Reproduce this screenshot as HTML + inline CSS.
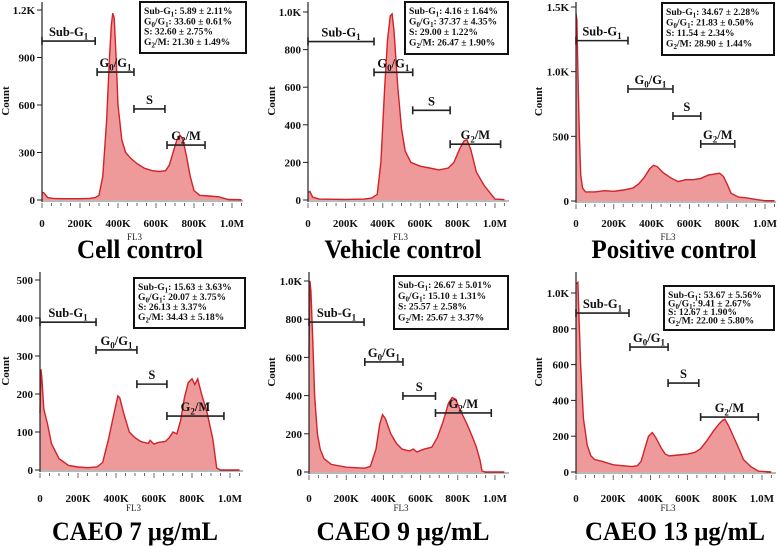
<!DOCTYPE html>
<html><head><meta charset="utf-8"><style>
html,body{margin:0;padding:0;background:#fff;}
svg{display:block;font-family:"Liberation Serif",serif;}
</style></head>
<body>
<svg id="fig" width="777" height="546" viewBox="0 0 777 546" xmlns="http://www.w3.org/2000/svg"></svg>
<script>
// ---- data (FL3 in K, counts) ----
const p1X=[0,10,30,60,100,200,250,280,300,320,340,355,365,372,380,390,400,420,440,470,500,540,580,620,650,670,690,710,725,740,760,780,800,830,880,930,960,980,1050];
const p1Y=[50,45,15,10,8,8,10,15,30,150,500,900,1100,1180,1150,900,600,380,300,260,230,200,185,180,185,220,300,380,410,390,280,150,60,30,25,20,10,3,2];
const p2X=[0,10,25,60,200,300,340,370,390,410,425,440,450,460,480,500,520,550,600,650,700,750,780,810,835,850,870,900,940,980,1000,1050];
const p2Y=[40,45,15,5,3,5,10,30,200,600,850,980,990,900,600,380,260,200,180,170,160,170,200,270,315,320,270,150,80,30,5,2];
const p3X=[0,5,10,18,25,35,50,100,150,200,250,300,330,360,390,410,430,460,500,540,580,620,660,700,740,760,780,800,820,860,900,960,1000,1050];
const p3Y=[1450,1400,1000,500,200,100,70,70,80,75,85,100,130,180,250,275,265,220,180,150,165,165,175,200,210,215,190,130,60,30,25,10,2,2];
const p4X=[0,5,10,20,40,60,100,150,200,250,300,330,360,390,410,420,440,470,500,530,570,580,600,620,660,680,700,720,740,760,780,800,815,830,850,880,910,930,950,1050];
const p4Y=[150,265,240,160,120,70,30,12,8,6,8,20,80,150,195,190,150,100,85,75,70,78,68,72,75,85,100,95,130,190,230,240,225,240,200,150,80,5,0,0];
const p5X=[0,5,10,20,30,45,60,80,120,200,300,330,360,380,395,410,440,470,500,540,560,580,620,660,690,720,750,770,790,810,850,880,900,920,930,950,1050];
const p5Y=[600,1000,950,700,400,200,120,70,40,25,20,30,120,250,300,280,200,150,120,110,120,105,120,130,180,260,360,390,380,330,250,180,130,60,5,0,0];
const p6X=[0,10,15,25,40,60,80,100,140,200,250,300,330,350,370,390,410,430,460,480,500,550,600,640,670,700,740,770,790,800,820,850,880,900,940,980,1050];
const p6Y=[1050,1060,900,600,300,150,90,70,60,40,35,30,35,60,130,200,220,190,130,100,90,95,100,110,130,170,230,270,290,295,260,190,120,70,30,5,0];
// gate brackets: [startK, endK, countLevel]
const p1Gates=[[0,280,1004],[290,484,808],[484,647,575],[658,858,347]];
const p2Gates=[[0,353,843],[353,560,679],[560,760,477],[760,1030,297]];
const p3Gates=[[0,275,1240],[275,513,866],[513,660,657],[660,840,441]];
const p4Gates=[[0,295,389],[295,510,316],[510,668,226],[668,968,142]];
const p5Gates=[[0,296,785],[300,505,576],[505,680,398],[680,980,309]];
const p6Gates=[[0,285,888],[290,495,698],[495,660,497],[670,980,307]];
const p1Stats=["Sub-G_1: 5.89 ± 2.11%","G_0/G_1: 33.60 ± 0.61%","S: 32.60 ± 2.75%","G_2/M: 21.30 ± 1.49%"];
const p2Stats=["Sub-G_1: 4.16 ± 1.64%","G_0/G_1: 37.37 ± 4.35%","S: 29.00 ± 1.22%","G_2/M: 26.47 ± 1.90%"];
const p3Stats=["Sub-G_1: 34.67 ± 2.28%","G_0/G_1: 21.83 ± 0.50%","S: 11.54 ± 2.34%","G_2/M: 28.90 ± 1.44%"];
const p4Stats=["Sub-G_1: 15.63 ± 3.63%","G_0/G_1: 20.07 ± 3.75%","S: 26.13 ± 3.37%","G_2/M: 34.43 ± 5.18%"];
const p5Stats=["Sub-G_1: 26.67 ± 5.01%","G_0/G_1: 15.10 ± 1.31%","S: 25.57 ± 2.58%","G_2/M: 25.67 ± 3.37%"];
const p6Stats=["Sub-G_1: 53.67 ± 5.56%","G_0/G_1: 9.41 ± 2.67%","S: 12.67 ± 1.90%","G_2/M: 22.00 ± 5.80%"];
const xTickVals=[0,200,400,600,800,1000];
const xTickLabels=["0","200K","400K","600K","800K","1.0M"];
const yTicksA=[0,300,600,900,1200], yLabA=["0","300","600","900","1.2K"];
const yTicksB=[0,200,400,600,800,1000], yLabB=["0","200","400","600","800","1.0K"];
const yTicksC=[0,500,1000,1500], yLabC=["0","500","1.0K","1.5K"];
const yTicksD=[0,100,200,300,400,500], yLabD=["0","100","200","300","400","500"];
const gateNames=["Sub-G_1","G_0/G_1","S","G_2/M"];

const panels=[
 {id:'cell-control',title:'Cell control',X:p1X,Y:p1Y,gates:p1Gates,stats:p1Stats,yt:yTicksA,yl:yLabA,x0:42,xpk:0.190,y0:200,ypv:47.5/300,top:2,right:243,tickY:227,fl3Y:240,titleX:140,titleY:258,titleW:126,countX:9,box:[139,1,108,53]},
 {id:'vehicle-control',title:'Vehicle control',X:p2X,Y:p2Y,gates:p2Gates,stats:p2Stats,yt:yTicksB,yl:yLabB,x0:308,xpk:0.187,y0:200,ypv:188/1000,top:2,right:509,tickY:227,fl3Y:240,titleX:403,titleY:258,titleW:157,countX:275,box:[404,1,105,54]},
 {id:'positive-control',title:'Positive control',X:p3X,Y:p3Y,gates:p3Gates,stats:p3Stats,yt:yTicksC,yl:yLabC,x0:576,xpk:0.189,y0:201,ypv:194/1500,top:2,right:776,tickY:227,fl3Y:240,titleX:674,titleY:258,titleW:165,countX:542,box:[661,2,114,54]},
 {id:'caeo-7',title:'CAEO 7 μg/mL',X:p4X,Y:p4Y,gates:p4Gates,stats:p4Stats,yt:yTicksD,yl:yLabD,x0:40,xpk:0.190,y0:470,ypv:190/500,top:272,right:243,tickY:502,fl3Y:511,titleX:135,titleY:540,titleW:166,countX:9,box:[133,277,113,52]},
 {id:'caeo-9',title:'CAEO 9 μg/mL',X:p5X,Y:p5Y,gates:p5Gates,stats:p5Stats,yt:yTicksB,yl:yLabB,x0:309,xpk:0.186,y0:472,ypv:191/1000,top:272,right:509,tickY:502,fl3Y:511,titleX:403,titleY:540,titleW:173,countX:275,box:[393,275,116,55]},
 {id:'caeo-13',title:'CAEO 13 μg/mL',X:p6X,Y:p6Y,gates:p6Gates,stats:p6Stats,yt:yTicksB,yl:yLabB,x0:576,xpk:0.186,y0:472,ypv:179/1000,top:272,right:776,tickY:502,fl3Y:511,titleX:675,titleY:540,titleW:180,countX:542,box:[663,285,112,46]}
];
const NS='http://www.w3.org/2000/svg';
const svg=document.getElementById('fig');
function mk(tag,attrs,parent){const e=document.createElementNS(NS,tag);for(const k in attrs)e.setAttribute(k,attrs[k]);(parent||svg).appendChild(e);return e;}
function rich(parent,x,y,str,size,anchor,weight){
  const t=mk('text',{x:x,y:y,'font-size':size,'text-anchor':anchor||'start','font-weight':weight||'bold',fill:'#111'},parent);
  const parts=str.split(/_(\w)/);
  for(let i=0;i<parts.length;i++){
    if(!parts[i])continue;
    const ts=document.createElementNS(NS,'tspan');
    if(i%2===1){ts.setAttribute('font-size',size*0.72);ts.setAttribute('dy',size*0.28);}
    else if(i>0){ts.setAttribute('dy',-size*0.28);}
    ts.textContent=parts[i];t.appendChild(ts);
  }
  return t;
}
panels.forEach(p=>{
  const g=mk('g',{});
  
  
  const sx=v=>p.x0+v*p.xpk;
  const sy=v=>p.y0-v*p.ypv;
  let d='M'+sx(p.X[0])+','+p.y0;
  for(let i=0;i<p.X.length;i++)d+=' L'+Math.min(sx(p.X[i]),p.right).toFixed(1)+','+sy(p.Y[i]).toFixed(1);
  d+=' L'+p.right+','+p.y0+' Z';
  const fill=mk('path',{d:d,fill:'#ee9a9a',stroke:'none'},g);
  
  
  let l='';
  for(let i=0;i<p.X.length;i++)l+=(i?' L':'M')+Math.min(sx(p.X[i]),p.right).toFixed(1)+','+sy(p.Y[i]).toFixed(1);
  const line=mk('path',{d:l,fill:'none',stroke:'#d42028','stroke-width':1.4},g);
  
  
  const ya=mk('line',{x1:p.x0,y1:p.top,x2:p.x0,y2:p.y0+2,stroke:'#222','stroke-width':1.2},g);
  
  
  const xa=mk('line',{x1:p.x0,y1:p.y0+1,x2:p.right,y2:p.y0+1,stroke:'#444','stroke-width':0.8},g);
  
  
  for(let v=0;v<=1050;v+=50){mk('line',{x1:sx(v),y1:p.y0+3,x2:sx(v),y2:p.y0+(v%200===0?8:6),stroke:'#444','stroke-width':0.8},g);}
  xTickVals.forEach((v,i)=>{
    const t=mk('text',{x:sx(v),y:p.tickY,'font-size':11,'font-weight':'bold','text-anchor':'middle',fill:'#111'},g);
    t.textContent=xTickLabels[i];
    
    
  });
  p.yt.forEach((v,i)=>{
    mk('line',{x1:p.x0-5,y1:sy(v),x2:p.x0,y2:sy(v),stroke:'#222','stroke-width':1},g);
    const t=mk('text',{x:p.x0-7,y:sy(v)+4,'font-size':11,'font-weight':'bold','text-anchor':'end',fill:'#111'},g);
    t.textContent=p.yl[i];
    
    
  });
  const cy=(p.top+p.y0)/2;
  const ct=mk('text',{x:p.countX,y:cy,'font-size':11,'font-weight':'bold','text-anchor':'middle',fill:'#111',transform:'rotate(-90 '+p.countX+' '+cy+')'},g);
  ct.textContent='Count';
  
  
  const fl=mk('text',{x:(p.x0+p.right)/2-8,y:p.fl3Y,'font-size':9,'text-anchor':'middle',fill:'#222'},g);
  fl.textContent='FL3';
  
  
  p.gates.forEach((gt,i)=>{
    const x1=sx(gt[0]),x2=sx(gt[1]),y=sy(gt[2]);
    const gg=mk('g',{stroke:'#222','stroke-width':1.6},g);
    
    
    mk('line',{x1:x1,y1:y,x2:x2,y2:y},gg);
    mk('line',{x1:x1,y1:y-4,x2:x1,y2:y+4},gg);
    mk('line',{x1:x2,y1:y-4,x2:x2,y2:y+4},gg);
    const lab=rich(g,(x1+x2)/2,y-5,gateNames[i],12.5,'middle');
    
    
  });
  const b=p.box;
  const bx=mk('rect',{x:b[0]+1,y:b[1]+1,width:b[2]-2,height:b[3]-2,fill:'#fff',stroke:'#111','stroke-width':2},g);
  
  
  const step=(b[3]-12)/4;
  p.stats.forEach((s,i)=>{
    const t=rich(g,b[0]+5,b[1]+13+i*step,s,9.6,'start');
    
    
  });
  const tt=mk('text',{x:p.titleX,y:p.titleY,'font-size':26,'font-weight':'bold','text-anchor':'middle',fill:'#000',textLength:p.titleW,lengthAdjust:'spacingAndGlyphs'},g);
  tt.textContent=p.title;
  
  
});
</script>
</body></html>
